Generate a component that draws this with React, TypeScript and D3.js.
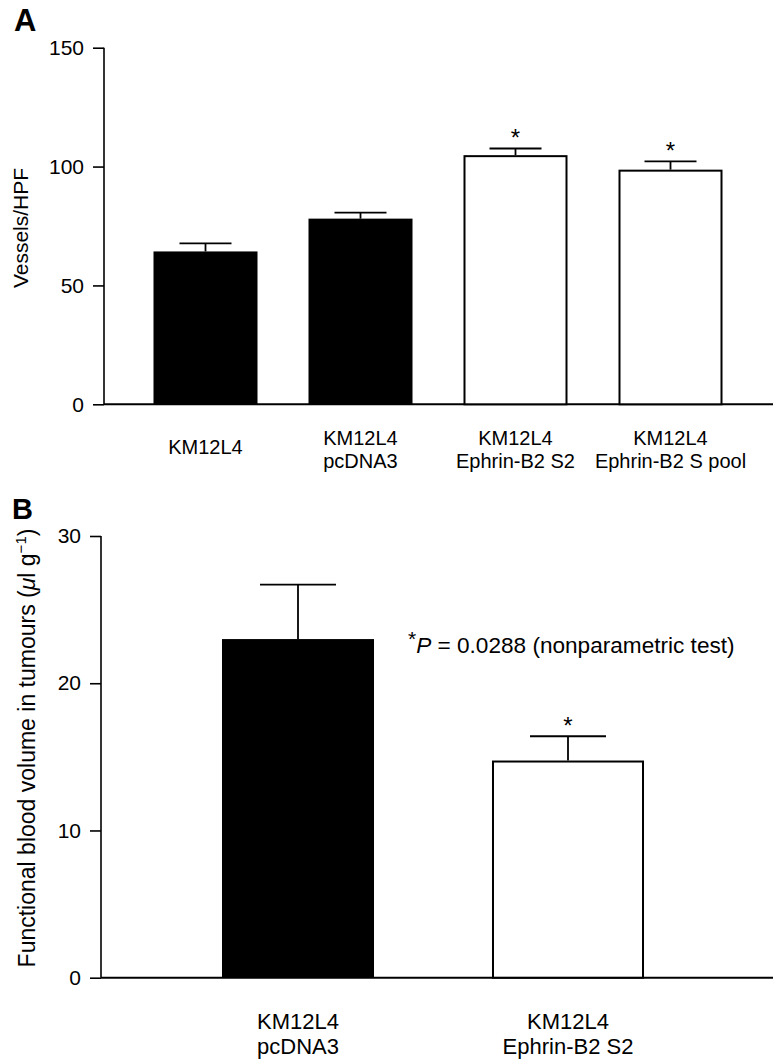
import React, { useEffect, useRef } from 'react';
import * as d3 from 'd3';

// panel A
const groupsA = ['KM12L4', 'KM12L4|pcDNA3', 'KM12L4|Ephrin-B2 S2', 'KM12L4|Ephrin-B2 S pool'];
const vesselsA = [64.3, 78.1, 104.8, 98.7];
const semA = [3.4, 2.5, 2.8, 3.5];
const filledA = [true, true, false, false];
const starA = [false, false, true, true];
const ticksA = [0, 50, 100, 150];

// panel B
const groupsB = ['KM12L4|pcDNA3', 'KM12L4|Ephrin-B2 S2'];
const volumeB = [23.0, 14.75];
const semB = [3.7, 1.65];
const filledB = [true, false];
const starB = [false, true];
const ticksB = [0, 10, 20, 30];

const FONT = '"Liberation Sans", Arial, Helvetica, sans-serif';

const App = () => {
  const svgRef = useRef(null);

  useEffect(() => {
    const svg = d3.select(svgRef.current);
    svg.selectAll('*').remove();

    const drawPanel = (opts) => {
      const { groups, values, errs, filled, stars, ticks, domainMax, yRange, xRange, padInner, axisX, axisRight, labelSize, labelY } = opts;
      const g = svg.append('g');

      const y = d3.scaleLinear().domain([0, domainMax]).range(yRange);
      const x = d3.scaleBand().domain(groups).range(xRange)
        .paddingInner(padInner).paddingOuter(padInner / 2);

      // y axis
      const yAxis = g.append('g')
        .attr('transform', `translate(${axisX},0)`)
        .call(d3.axisLeft(y).tickValues(ticks).tickSize(11).tickPadding(9).tickFormat(d3.format('d')));
      yAxis.select('.domain').attr('d', `M0,${y(domainMax)}V${y(0)}`).attr('stroke-width', 1.6);
      yAxis.selectAll('.tick line').attr('stroke-width', 1.6);
      yAxis.selectAll('text').attr('font-family', FONT).attr('font-size', 21).attr('fill', '#000');

      // baseline
      g.append('line')
        .attr('x1', axisX).attr('x2', axisRight)
        .attr('y1', y(0)).attr('y2', y(0))
        .attr('stroke', '#000').attr('stroke-width', 2);

      // bars
      groups.forEach((grp, i) => {
        const bx = x(grp);
        const bw = x.bandwidth();
        const cx = bx + bw / 2;
        const top = y(values[i]);
        const et = y(values[i] + errs[i]);

        g.append('line')
          .attr('x1', cx).attr('x2', cx).attr('y1', top).attr('y2', et)
          .attr('stroke', '#000').attr('stroke-width', 1.8);
        g.append('line')
          .attr('x1', cx - bw / 4).attr('x2', cx + bw / 4).attr('y1', et).attr('y2', et)
          .attr('stroke', '#000').attr('stroke-width', 1.8);

        g.append('rect')
          .attr('x', bx + (filled[i] ? 0 : 1)).attr('y', top + (filled[i] ? 0 : 1))
          .attr('width', bw - (filled[i] ? 0 : 2)).attr('height', y(0) - top - (filled[i] ? 0 : 1))
          .attr('fill', filled[i] ? '#000' : '#fff')
          .attr('stroke', filled[i] ? 'none' : '#000')
          .attr('stroke-width', 2);

        if (stars[i]) {
          g.append('text')
            .attr('x', cx).attr('y', et - 2)
            .attr('text-anchor', 'middle')
            .attr('font-family', FONT).attr('font-size', 24)
            .text('*');
        }

        const lines = grp.split('|');
        const t = g.append('text')
          .attr('text-anchor', 'middle')
          .attr('font-family', FONT).attr('font-size', labelSize);
        lines.forEach((ln, j) => {
          t.append('tspan')
            .attr('x', cx)
            .attr('y', lines.length === 1 ? labelY + 9 : labelY + j * (labelSize + 3))
            .text(ln);
        });
      });

      return { x, y };
    };

    drawPanel({
      groups: groupsA, values: vesselsA, errs: semA, filled: filledA, stars: starA,
      ticks: ticksA, domainMax: 150, yRange: [404.3, 47.7], xRange: [128, 748], padInner: 0.329,
      axisX: 104, axisRight: 773, labelSize: 20, labelY: 445,
    });

    drawPanel({
      groups: groupsB, values: volumeB, errs: semB, filled: filledB, stars: starB,
      ticks: ticksB, domainMax: 30, yRange: [977.7, 536], xRange: [163, 703], padInner: 0.437,
      axisX: 101, axisRight: 773, labelSize: 22, labelY: 1029,
    });

    // panel letters
    svg.append('text').attr('x', 14).attr('y', 31)
      .attr('font-family', FONT).attr('font-weight', 'bold').attr('font-size', 31).text('A');
    svg.append('text').attr('x', 12).attr('y', 519)
      .attr('font-family', FONT).attr('font-weight', 'bold').attr('font-size', 29).text('B');

    // y titles
    svg.append('text')
      .attr('transform', 'translate(28,228) rotate(-90)')
      .attr('text-anchor', 'middle')
      .attr('font-family', FONT).attr('font-size', 21)
      .text('Vessels/HPF');

    const tb = svg.append('text')
      .attr('transform', 'translate(35,748) rotate(-90)')
      .attr('text-anchor', 'middle')
      .attr('font-family', FONT).attr('font-size', 23);
    tb.append('tspan').text('Functional blood volume in tumours (');
    tb.append('tspan').attr('font-style', 'italic').text('\u03bc');
    tb.append('tspan').text('l g');
    tb.append('tspan').attr('dy', -9).attr('font-size', 15).text('\u22121');
    tb.append('tspan').attr('dy', 9).text(')');

    // p-value note
    const pn = svg.append('text')
      .attr('x', 408).attr('y', 653)
      .attr('font-family', FONT).attr('font-size', 22.6);
    pn.append('tspan').attr('dy', -7).attr('font-size', 21).text('*');
    pn.append('tspan').attr('dy', 7).attr('font-style', 'italic').text('P');
    pn.append('tspan').text(' = 0.0288 (nonparametric test)');
  }, []);

  return (
    <svg ref={svgRef} width={773} height={1060}
      style={{ position: 'absolute', left: 0, top: 0, background: '#fff' }} />
  );
};

export default App;
